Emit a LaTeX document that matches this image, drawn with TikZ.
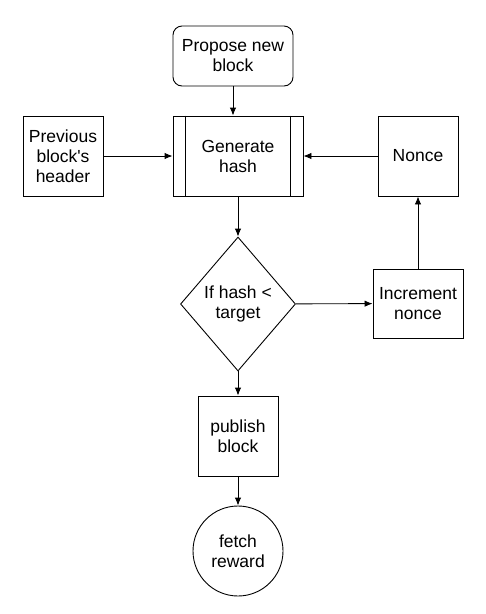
\documentclass[tikz,border=0pt]{standalone}
\usepackage{fontspec}
\setmainfont{Liberation Sans}[Ligatures=TeXOff]
\usetikzlibrary{shapes.geometric}
\usetikzlibrary{arrows.meta}
\tikzset{
	every node/.style={font=\fontsize{17.5}{20}\selectfont, align=center, inner sep=0pt},
	box/.style={draw, minimum width=80pt, minimum height=80pt},
	startbox/.style={draw, rounded corners=9pt, minimum width=120pt, minimum height=60pt},
	hashbox/.style={draw, minimum width=130pt, minimum height=80pt},
	test/.style={draw, diamond, minimum width=115pt, minimum height=134pt},
	finish/.style={draw, circle, minimum size=90pt},
	flow/.style={-{Latex[length=8pt, width=6.5pt]}},
}
\begin{document}
\begin{tikzpicture}[x=1pt, y=-1pt, line width=0.9pt]
		\useasboundingbox (0,0) rectangle (486,614);
		
		\node[startbox] (propose) at (233,56) {Propose new\\block};
		\node[hashbox] (hash) at (238,156) {Generate\\hash};
		\draw ([xshift=13pt]hash.north west) -- ([xshift=13pt]hash.south west);
		\draw ([xshift=-13pt]hash.north east) -- ([xshift=-13pt]hash.south east);
		\node[box] (prev) at (63,156) {Previous\\block's\\header};
		\node[box] (nonce) at (418,156) {Nonce};
		\node[test] (check) at (238,304) {If hash <\\target};
		\node[box, minimum width=90pt, minimum height=69pt] (incr) at (418,303.5) {Increment\\nonce};
		\node[box] (publish) at (238,436) {publish\\block};
		\node[finish] (reward) at (238,551) {fetch\\reward};
		
		\draw[flow] (propose) -- (propose.south |- hash.north);
		\draw[flow] (prev) -- (hash);
		\draw[flow] (nonce) -- (hash);
		\draw[flow] (hash) -- (check);
		\draw[flow] (check) -- (incr);
		\draw[flow] (incr) -- (nonce);
		\draw[flow] (check) -- (publish);
		\draw[flow] (publish) -- (reward);
	\end{tikzpicture}
\end{document}
